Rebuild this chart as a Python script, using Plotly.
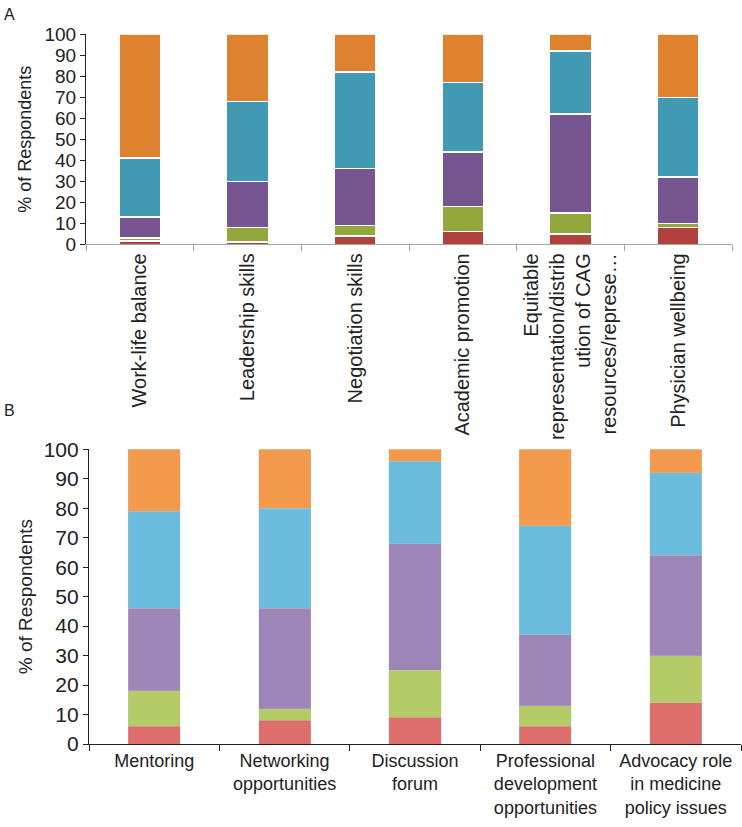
import plotly.graph_objects as go

# ---------- Panel A data ----------
cats_a = ["Work-life balance", "Leadership skills", "Negotiation skills",
          "Academic promotion",
          "Equitable<br>representation/distrib<br>ution of CAG<br>resources/represe…",
          "Physician wellbeing"]
a_red = [1.5, 1, 4, 6, 5, 8]
a_green = [1.5, 7, 5, 12, 10, 2]
a_purple = [10, 22, 27, 26, 47, 22]
a_teal = [28, 38, 46, 33, 30, 38]
a_orange = [59, 32, 18, 23, 8, 30]

# ---------- Panel B data ----------
cats_b = ["Mentoring", "Networking<br>opportunities", "Discussion<br>forum",
          "Professional<br>development<br>opportunities",
          "Advocacy role<br>in medicine<br>policy issues"]
b_red = [6, 8, 9, 6, 14]
b_green = [12, 4, 16, 7, 16]
b_purple = [28, 34, 43, 24, 34]
b_teal = [33, 34, 28, 37, 28]
b_orange = [21, 20, 4, 26, 8]

y_ticks = [0, 10, 20, 30, 40, 50, 60, 70, 80, 90, 100]

colors_a = ["#B0413E", "#93A83C", "#765590", "#4199B3", "#DE8230"]
colors_b = ["#DE6E6C", "#B5CB68", "#9E86B8", "#6CBCDE", "#F39A4C"]

FONT = "Liberation Sans, Arial, sans-serif"
TXT = "#222222"

fig = go.Figure()

for vals, col in zip([a_red, a_green, a_purple, a_teal, a_orange], colors_a):
    fig.add_trace(go.Bar(x=cats_a, y=vals, marker=dict(color=col, line=dict(color="white", width=1.5)),
                         width=0.39, xaxis="x", yaxis="y", showlegend=False))

for vals, col in zip([b_red, b_green, b_purple, b_teal, b_orange], colors_b):
    fig.add_trace(go.Bar(x=cats_b, y=vals, marker=dict(color=col, line=dict(color="rgba(200,200,200,0.6)", width=0.5)),
                         width=0.40, xaxis="x2", yaxis="y2", showlegend=False))

fig.update_layout(
    width=742, height=827, autosize=False,
    margin=dict(l=0, r=0, t=0, b=0),
    barmode="stack", bargap=0.6,
    plot_bgcolor="white", paper_bgcolor="white",
    font=dict(family=FONT, color=TXT),
    xaxis=dict(domain=[86/742, 732/742], anchor="y", type="category",
               showline=True, linecolor="#A6A6A6", linewidth=1,
               ticks="outside", tickson="boundaries", ticklen=6, tickcolor="#A6A6A6",
               tickangle=-90, tickfont=dict(size=20, color=TXT), automargin=False,
               showgrid=False, zeroline=False),
    yaxis=dict(domain=[1-244.3/827, 1-34.3/827], anchor="x", range=[0, 100],
               tickvals=y_ticks, showline=True, linecolor="#222222", linewidth=1.2,
               ticks="outside", ticklen=5, tickcolor="#222222",
               tickfont=dict(size=19, color=TXT), automargin=False,
               showgrid=False, zeroline=False,
               title=dict(text="% of Respondents", font=dict(size=18, color=TXT), standoff=8)),
    xaxis2=dict(domain=[89/742, 741/742], anchor="y2", type="category",
                showline=True, linecolor="#222222", linewidth=1.2,
                ticks="outside", tickson="boundaries", ticklen=6, tickcolor="#222222",
                tickfont=dict(size=18, color=TXT), automargin=False,
                showgrid=False, zeroline=False),
    yaxis2=dict(domain=[1-744/827, 1-449.3/827], anchor="x2", range=[0, 100],
                tickvals=y_ticks, showline=True, linecolor="#222222", linewidth=1.2,
                ticks="outside", ticklen=5, tickcolor="#222222",
                tickfont=dict(size=21, color=TXT), automargin=False,
                showgrid=False, zeroline=False,
                title=dict(text="% of Respondents", font=dict(size=19, color=TXT), standoff=5)),
    annotations=[
        dict(text="A", x=2/742, y=1-4/827, xref="paper", yref="paper", xanchor="left", yanchor="top",
             showarrow=False, font=dict(size=16, color=TXT)),
        dict(text="B", x=2/742, y=1-400/827, xref="paper", yref="paper", xanchor="left", yanchor="top",
             showarrow=False, font=dict(size=16, color=TXT)),
    ],
)

fig.write_html("out.html", config={"displayModeBar": False},
               post_script="document.body.style.margin='0';document.body.style.overflow='hidden';")
